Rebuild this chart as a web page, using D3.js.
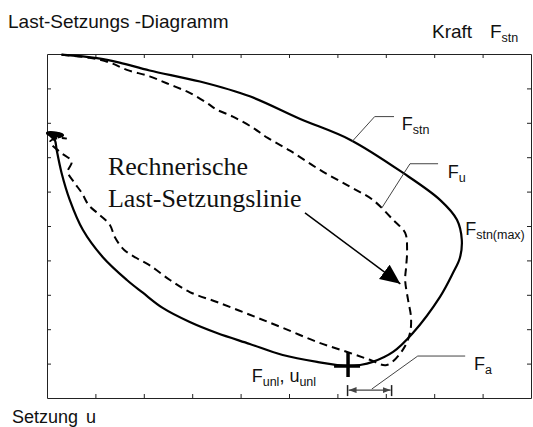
<!DOCTYPE html>
<html>
<head>
<meta charset="utf-8">
<script src="https://cdn.jsdelivr.net/npm/d3@7"></script>
<style>
  body { margin: 0; background: #fff; }
  svg { display: block; }
  text { font-family: "Liberation Sans", Arial, sans-serif; fill: #111; }
  .serif { font-family: "Liberation Serif", "Times New Roman", serif; }
</style>
</head>
<body>
<div id="chart"></div>
<script>
// Kraft runs left->right, Setzung top->bottom, both in tick units (0..10)

// F_stn, measured load-settlement loop (solid)
var stnX = [0.30, 1.03, 1.50, 2.12, 3.16, 4.19, 5.22, 6.26, 7.35, 8.12, 8.47, 8.57, 8.53, 8.39, 8.12, 7.56, 7.15, 6.73, 6.47, 6.22,
            5.58, 4.87, 4.19, 3.51, 2.95, 2.39, 1.98, 1.65, 1.15, 0.74, 0.47, 0.30, 0.20, 0.16, 0.06, 0.01, 0.18, 0.32, 0.22]
var stnY = [0.02, 0.12, 0.25, 0.48, 0.80, 1.23, 1.88, 2.49, 3.45, 4.24, 4.82, 5.40, 5.93, 6.36, 7.06, 8.11, 8.66, 8.95, 9.04, 9.07,
            8.95, 8.75, 8.43, 8.11, 7.79, 7.38, 6.94, 6.57, 5.90, 5.11, 4.24, 3.45, 2.79, 2.49, 2.35, 2.30, 2.30, 2.36, 2.41]

// F_u, computed line (dashed)
var uX = [0.30, 0.88, 1.30, 1.65, 2.12, 2.54, 2.95, 3.30, 3.51, 3.84, 4.25, 4.56, 5.02, 5.64, 6.26, 6.73, 7.15, 7.40, 7.44, 7.42,
          7.40, 7.46, 7.52, 7.50, 7.35, 7.02, 6.67, 6.26, 5.58, 4.87, 4.19, 3.51, 2.95, 2.54, 2.14, 1.85, 1.59, 1.40, 1.30, 1.09,
          0.86, 0.72, 0.57, 0.43, 0.51, 0.26, 0.06, 0.26, 0.41]
var uY = [0.02, 0.11, 0.25, 0.46, 0.65, 0.89, 1.13, 1.42, 1.62, 1.82, 2.14, 2.44, 2.81, 3.37, 3.86, 4.24, 4.82, 5.20, 5.69, 6.19,
          6.57, 7.15, 7.64, 8.11, 8.60, 9.04, 8.89, 8.69, 8.37, 7.96, 7.58, 7.21, 6.92, 6.57, 6.16, 5.93, 5.69, 5.32, 4.97, 4.68,
          4.39, 4.04, 3.75, 3.42, 3.13, 2.84, 2.55, 2.44, 2.46]

var xTicks = [1, 2, 3, 4, 5, 6, 7, 8, 9]
var yTicks = [1, 2, 3, 4, 5, 6, 7, 8, 9]

// labels: main letter, subscript, anchor (tick units)
var labelMain = ['F', 'F', 'F', 'F']
var labelSub  = ['stn', 'u', 'stn(max)', 'a']
var labelX    = [7.33, 8.28, 8.64, 8.82]
var labelY    = [2.20, 3.60, 5.26, 9.19]

// leader lines for F_stn, F_u, F_a
var leaders = [
  [[6.30, 2.55], [6.77, 1.82], [7.17, 1.82]],
  [[6.92, 4.47], [7.50, 3.19], [8.08, 3.19]],
  [[6.71, 9.74], [7.66, 8.78], [8.64, 8.78]]
]

var unlPoint = [6.22, 9.07]
var faSpan = [6.21, 7.12, 9.77]
var arrowFrom = [5.33, 4.62], arrowTo = [7.30, 6.68]
var noteLines = ['Rechnerische', 'Last-Setzungslinie']
var noteX = 1.26, noteY = [3.51, 4.44]

var W = 533, H = 427
var svg = d3.select('#chart').append('svg').attr('width', W).attr('height', H)
svg.append('rect').attr('width', W).attr('height', H).attr('fill', '#fff')

var x = d3.scaleLinear().domain([0, 10]).range([47, 531])
var y = d3.scaleLinear().domain([0, 10]).range([54, 398])

// frame with inward ticks
function frameAxis(axis, tx, ty) {
  var g = svg.append('g').attr('transform', 'translate(' + tx + ',' + ty + ')')
    .call(axis.tickSizeInner(-4).tickSizeOuter(0).tickPadding(0).tickFormat(''))
  g.selectAll('path, line').attr('stroke', '#222').attr('stroke-width', 1)
}
frameAxis(d3.axisBottom(x).tickValues(xTicks), 0, y(10))
frameAxis(d3.axisTop(x).tickValues(xTicks), 0, y(0))
frameAxis(d3.axisLeft(y).tickValues(yTicks), x(0), 0)
frameAxis(d3.axisRight(y).tickValues(yTicks), x(10), 0)

var defs = svg.append('defs')
defs.append('marker').attr('id', 'big').attr('viewBox', '0 0 20 18')
  .attr('refX', 20).attr('refY', 9).attr('markerWidth', 20).attr('markerHeight', 18)
  .attr('markerUnits', 'userSpaceOnUse').attr('orient', 'auto')
  .append('path').attr('d', 'M0,0L20,9L0,18Z').attr('fill', '#000')
defs.append('marker').attr('id', 'small').attr('viewBox', '0 0 8 6')
  .attr('refX', 8).attr('refY', 3).attr('markerWidth', 8).attr('markerHeight', 6)
  .attr('markerUnits', 'userSpaceOnUse').attr('orient', 'auto-start-reverse')
  .append('path').attr('d', 'M0,0L8,3L0,6Z').attr('fill', '#444')

var line = d3.line().x(function(d) { return x(d[0]) }).y(function(d) { return y(d[1]) })
  .curve(d3.curveCatmullRom.alpha(0.5))

svg.append('path').datum(d3.zip(uX, uY)).attr('d', line)
  .attr('fill', 'none').attr('stroke', '#000').attr('stroke-width', 2).attr('stroke-dasharray', '8,5')

var stn = d3.zip(stnX, stnY)
svg.append('path').datum(stn).attr('d', line)
  .attr('fill', 'none').attr('stroke', '#000').attr('stroke-width', 2.2)
// the little knot where the loop starts is drawn heavier
svg.append('path').datum(stn.slice(-6)).attr('d', line)
  .attr('fill', '#000').attr('stroke', '#000').attr('stroke-width', 3.2)

// leaders
var straight = d3.line().x(function(d) { return x(d[0]) }).y(function(d) { return y(d[1]) })
svg.selectAll('.leader').data(leaders).enter().append('path').attr('class', 'leader')
  .attr('d', straight).attr('fill', 'none').attr('stroke', '#444').attr('stroke-width', 1)

// labels
labelMain.forEach(function(m, i) {
  var t = svg.append('text').attr('x', x(labelX[i])).attr('y', y(labelY[i])).attr('font-size', 18)
  t.append('tspan').text(m)
  t.append('tspan').attr('dy', 4).attr('font-size', 12.5).text(labelSub[i])
})

var tu = svg.append('text').attr('x', x(4.23)).attr('y', y(9.53)).attr('font-size', 18)
tu.append('tspan').text('F')
tu.append('tspan').attr('dy', 4).attr('font-size', 12.5).text('unl')
tu.append('tspan').attr('dy', -4).text(', u')
tu.append('tspan').attr('dy', 4).attr('font-size', 12.5).text('unl')

// unloading point cross
var cx = x(unlPoint[0]), cy = y(unlPoint[1])
svg.append('line').attr('x1', cx).attr('x2', cx).attr('y1', cy - 14).attr('y2', cy + 11)
  .attr('stroke', '#000').attr('stroke-width', 3.5)
svg.append('line').attr('x1', cx - 14).attr('x2', cx + 12).attr('y1', cy).attr('y2', cy)
  .attr('stroke', '#000').attr('stroke-width', 3.5)

// F_a span
var fy = y(faSpan[2])
svg.append('line').attr('x1', x(faSpan[0]) + 1).attr('x2', x(faSpan[1]) - 1).attr('y1', fy).attr('y2', fy)
  .attr('stroke', '#444').attr('stroke-width', 1.2)
  .attr('marker-start', 'url(#small)').attr('marker-end', 'url(#small)')
;[faSpan[0], faSpan[1]].forEach(function(v) {
  svg.append('line').attr('x1', x(v)).attr('x2', x(v)).attr('y1', fy - 5).attr('y2', fy + 6)
    .attr('stroke', '#222').attr('stroke-width', 1.5)
})

// note and arrow
noteLines.forEach(function(s, i) {
  svg.append('text').attr('class', 'serif').attr('x', x(noteX)).attr('y', y(noteY[i]))
    .attr('font-size', 26).text(s)
})
svg.append('line').attr('x1', x(arrowFrom[0])).attr('y1', y(arrowFrom[1]))
  .attr('x2', x(arrowTo[0])).attr('y2', y(arrowTo[1]))
  .attr('stroke', '#000').attr('stroke-width', 1.5).attr('marker-end', 'url(#big)')

// titles
svg.append('text').attr('x', 8).attr('y', 28).attr('font-size', 19).text('Last-Setzungs -Diagramm')
var tk = svg.append('text').attr('x', 432).attr('y', 38).attr('font-size', 19)
tk.append('tspan').text('Kraft')
tk.append('tspan').attr('x', 490).text('F')
tk.append('tspan').attr('dy', 4).attr('font-size', 12.5).text('stn')
var ts = svg.append('text').attr('x', 12).attr('y', 423).attr('font-size', 18)
ts.append('tspan').text('Setzung')
ts.append('tspan').attr('x', 86).text('u')
</script>
</body>
</html>
